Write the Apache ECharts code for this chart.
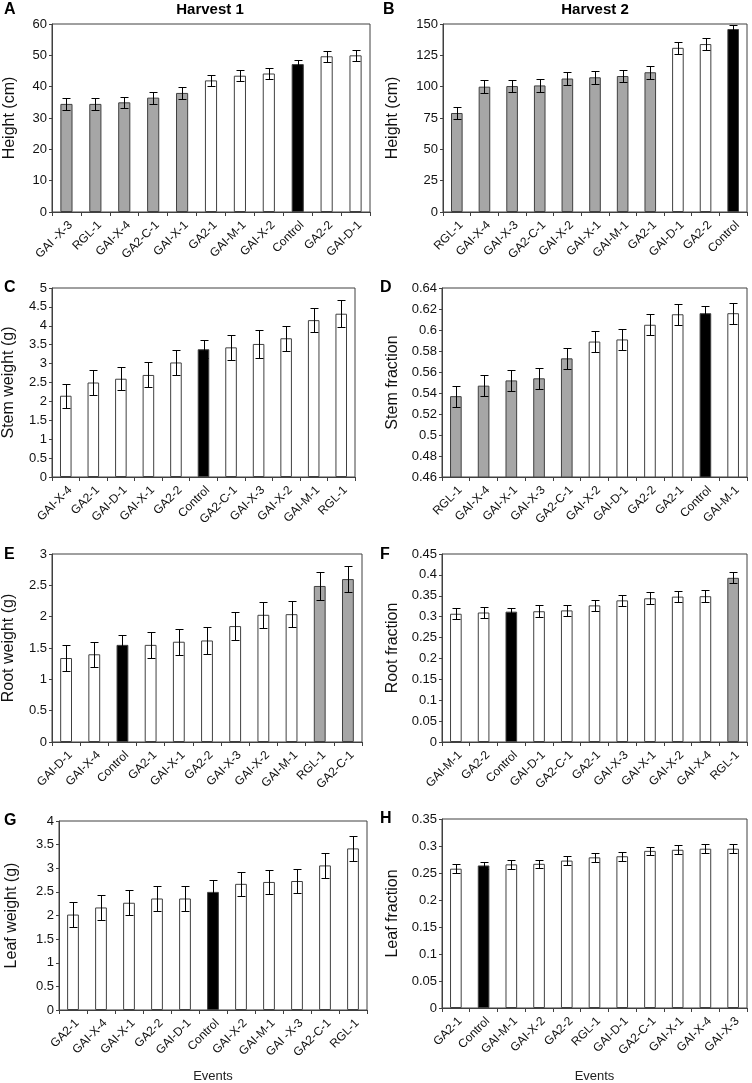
<!DOCTYPE html>
<html><head><meta charset="utf-8">
<script src="https://cdn.jsdelivr.net/npm/echarts@6/dist/echarts.min.js"></script>
<style>html,body{margin:0;padding:0;background:#fff}#c{width:752px;height:1083px}</style>
</head><body><div id="c"></div>
<script>
// ---------- DATA ----------
const catsA = ['GAI -X-3','RGL-1','GAI-X-4','GA2-C-1','GAI-X-1','GA2-1','GAI-M-1','GAI-X-2','Control','GA2-2','GAI-D-1'];
const valsA = [34.5,34.5,35,36.5,38,42,43.5,44.2,47.2,49.7,50];
const errA  = [2.0,2.0,1.8,1.9,1.8,1.8,1.8,1.9,1.2,1.8,1.7];
const grayA = ['GAI -X-3','RGL-1','GAI-X-4','GA2-C-1','GAI-X-1'];

const catsB = ['RGL-1','GAI-X-4','GAI-X-3','GA2-C-1','GAI-X-2','GAI-X-1','GAI-M-1','GA2-1','GAI-D-1','GA2-2','Control'];
const valsB = [79,100,100.5,101,106.5,107.5,108.5,111.5,131,134,146];
const errB  = [5,5,5,5,5,5,5,5,5,5,3.5];
const grayB = ['RGL-1','GAI-X-4','GAI-X-3','GA2-C-1','GAI-X-2','GAI-X-1','GAI-M-1','GA2-1'];

const catsC = ['GAI-X-4','GA2-1','GAI-D-1','GAI-X-1','GA2-2','Control','GA2-C-1','GAI-X-3','GAI-X-2','GAI-M-1','RGL-1'];
const valsC = [2.15,2.5,2.6,2.7,3.03,3.38,3.43,3.52,3.67,4.15,4.32];
const errC  = [0.32,0.33,0.31,0.33,0.33,0.24,0.33,0.37,0.33,0.32,0.35];
const grayC = [];

const catsD = ['RGL-1','GAI-X-4','GAI-X-1','GAI-X-3','GA2-C-1','GAI-X-2','GAI-D-1','GA2-2','GA2-1','Control','GAI-M-1'];
const valsD = [0.537,0.547,0.552,0.554,0.573,0.589,0.591,0.605,0.615,0.616,0.616];
const errD  = [0.010,0.010,0.010,0.010,0.010,0.010,0.010,0.010,0.010,0.007,0.010];
const grayD = ['RGL-1','GAI-X-4','GAI-X-1','GAI-X-3','GA2-C-1'];

const catsE = ['GAI-D-1','GAI-X-4','Control','GA2-1','GAI-X-1','GA2-2','GAI-X-3','GAI-X-2','GAI-M-1','RGL-1','GA2-C-1'];
const valsE = [1.34,1.4,1.55,1.55,1.6,1.62,1.85,2.03,2.04,2.49,2.6];
const errE  = [0.2,0.2,0.15,0.21,0.21,0.21,0.23,0.21,0.21,0.22,0.21];
const grayE = ['RGL-1','GA2-C-1'];

const catsF = ['GAI-M-1','GA2-2','Control','GAI-D-1','GA2-C-1','GA2-1','GAI-X-3','GAI-X-1','GAI-X-2','GAI-X-4','RGL-1'];
const valsF = [0.307,0.31,0.312,0.313,0.315,0.327,0.339,0.344,0.348,0.349,0.393];
const errF  = [0.013,0.014,0.009,0.014,0.014,0.013,0.014,0.014,0.014,0.014,0.013];
const grayF = ['RGL-1'];

const catsG = ['GA2-1','GAI-X-4','GAI-X-1','GA2-2','GAI-D-1','Control','GAI-X-2','GAI-M-1','GAI -X-3','GA2-C-1','RGL-1'];
const valsG = [2.02,2.17,2.27,2.36,2.36,2.5,2.67,2.71,2.73,3.06,3.42];
const errG  = [0.26,0.26,0.26,0.26,0.26,0.25,0.26,0.26,0.26,0.26,0.26];
const grayG = [];

const catsH = ['GA2-1','Control','GAI-M-1','GAI-X-2','GA2-2','RGL-1','GAI-D-1','GA2-C-1','GAI-X-1','GAI-X-4','GAI-X-3'];
const valsH = [0.258,0.264,0.266,0.267,0.273,0.279,0.281,0.291,0.293,0.295,0.295];
const errH  = [0.008,0.006,0.008,0.008,0.008,0.008,0.008,0.008,0.008,0.008,0.008];
const grayH = [];

const yTitles = ['Height (cm)','Height (cm)','Stem weight (g)','Stem fraction','Root weight (g)','Root fraction','Leaf weight (g)','Leaf fraction'];
const panelLetters = ['A','B','C','D','E','F','G','H'];
const harvestTitles = ['Harvest 1','Harvest 2'];
const xTitle = 'Events';

// ---------- LAYOUT / STYLE ----------
const panels = [
  {cats:catsA, vals:valsA, err:errA, gray:grayA, min:0, max:60, interval:10, grid:{left:52,top:24,width:318,height:188}, gap:34, xgap:0},
  {cats:catsB, vals:valsB, err:errB, gray:grayB, min:0, max:150, interval:25, grid:{left:443,top:24,width:304,height:188}, gap:42, xgap:0},
  {cats:catsC, vals:valsC, err:errC, gray:grayC, min:0, max:5, interval:0.5, grid:{left:52,top:288,width:303,height:189}, gap:35, xgap:0},
  {cats:catsD, vals:valsD, err:errD, gray:grayD, min:0.46, max:0.64, interval:0.02, grid:{left:442,top:288,width:305,height:189}, gap:41, xgap:0},
  {cats:catsE, vals:valsE, err:errE, gray:grayE, min:0, max:3, interval:0.5, grid:{left:52,top:554,width:310,height:188}, gap:35, xgap:0},
  {cats:catsF, vals:valsF, err:errF, gray:grayF, min:0, max:0.45, interval:0.05, grid:{left:442,top:554,width:305,height:188}, gap:41, xgap:0},
  {cats:catsG, vals:valsG, err:errG, gray:grayG, min:0, max:4, interval:0.5, grid:{left:59,top:821,width:308,height:189}, gap:39, xgap:60},
  {cats:catsH, vals:valsH, err:errH, gray:grayH, min:0, max:0.35, interval:0.05, grid:{left:442,top:819,width:305,height:189}, gap:41, xgap:62}
];
const letterPos = [[4,10],[383,10],[4,288],[380,288],[4,555],[380,555],[4,821],[380,819]];

const FONT = 'Liberation Sans, Arial, sans-serif';
const EDGE = '#404040';
const GRAY = '#a6a6a6';

function fillFor(p, c){
  if (c === 'Control') return '#000';
  if (p.gray.indexOf(c) >= 0) return GRAY;
  return '#fff';
}

const grids=[], xAxes=[], yAxes=[], series=[];
panels.forEach((p,i)=>{
  grids.push(Object.assign({show:true, borderColor:EDGE, borderWidth:1, backgroundColor:'transparent', containLabel:false, outerBoundsMode:'none'}, p.grid));
  xAxes.push({type:'category', gridIndex:i, data:p.cats,
    axisLine:{lineStyle:{color:EDGE,width:1}},
    axisTick:{show:true, length:4, interval:0, lineStyle:{color:EDGE}},
    axisLabel:{rotate:45, interval:0, fontSize:12, color:'#111', fontFamily:FONT, margin:7, verticalAlign:'top'},
    name: (i>=6 ? xTitle : ''), nameLocation:'middle', nameGap:p.xgap,
    nameTextStyle:{fontSize:13, color:'#222', fontFamily:FONT}
  });
  yAxes.push({type:'value', gridIndex:i, min:p.min, max:p.max, interval:p.interval,
    splitLine:{show:false},
    axisLine:{show:true, lineStyle:{color:EDGE,width:1}},
    axisTick:{show:true, length:3, lineStyle:{color:EDGE}},
    axisLabel:{fontSize:13, color:'#111', fontFamily:FONT, margin:5},
    name:yTitles[i], nameLocation:'middle', nameGap:p.gap,
    nameTextStyle:{fontSize:16, color:'#111', fontFamily:FONT}
  });
  series.push({type:'bar', xAxisIndex:i, yAxisIndex:i, barWidth:'42%', clip:true,
    data:p.vals.map((v,k)=>({value:v, itemStyle:{color:fillFor(p,p.cats[k]), borderColor:EDGE, borderWidth:1}})),
    animation:false, silent:true
  });
  series.push({type:'custom', xAxisIndex:i, yAxisIndex:i, z:5, animation:false, silent:true,
    encode:{x:0,y:1},
    data:p.vals.map((v,k)=>[k, v, p.err[k]]),
    renderItem:function(params, api){
      const x=api.value(0), v=api.value(1), e=api.value(2);
      const t=api.coord([x, v+e]), b=api.coord([x, v-e]);
      const cx=Math.round(t[0])+0.5, ty=Math.round(t[1])+0.5, by=Math.round(b[1])+0.5;
      const hw=4, st={stroke:'#000', lineWidth:1};
      return {type:'group', children:[
        {type:'line', shape:{x1:cx,y1:ty,x2:cx,y2:by}, style:st},
        {type:'line', shape:{x1:cx-hw,y1:ty,x2:cx+hw,y2:ty}, style:st},
        {type:'line', shape:{x1:cx-hw,y1:by,x2:cx+hw,y2:by}, style:st}
      ]};
    }
  });
});

const graphics = [];
panelLetters.forEach((L,i)=>{
  graphics.push({type:'text', x:letterPos[i][0], y:letterPos[i][1],
    style:{text:L, font:'bold 16px '+FONT, fill:'#000', verticalAlign:'middle'}});
});
graphics.push({type:'text', x:210, y:10, style:{text:harvestTitles[0], font:'bold 15px '+FONT, fill:'#000', align:'center', verticalAlign:'middle'}});
graphics.push({type:'text', x:595, y:10, style:{text:harvestTitles[1], font:'bold 15px '+FONT, fill:'#000', align:'center', verticalAlign:'middle'}});

const chart = echarts.init(document.getElementById('c'), null, {renderer:'canvas'});
chart.setOption({animation:false, grid:grids, xAxis:xAxes, yAxis:yAxes, series:series, graphic:graphics});
</script></body></html>
